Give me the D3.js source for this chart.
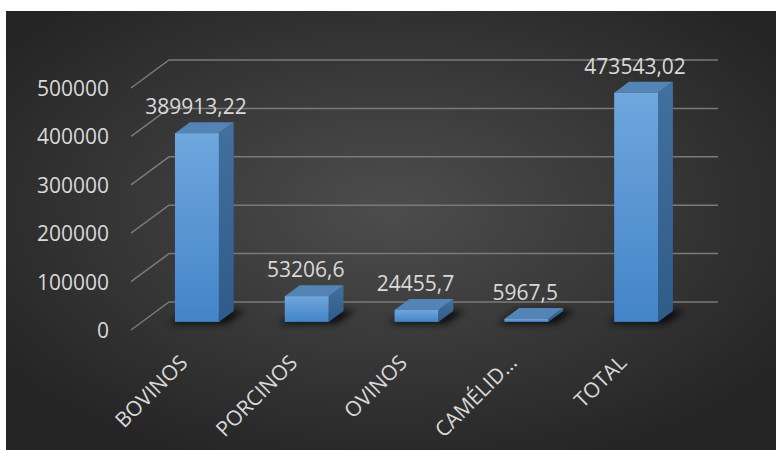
<!DOCTYPE html>
<html>
<head>
<meta charset="utf-8">
<script src="https://cdn.jsdelivr.net/npm/d3@7"></script>
<style>
  html, body { margin: 0; padding: 0; background: #ffffff; }
  svg { display: block; }
  text { font-family: "Open Sans", "Liberation Sans", sans-serif; fill: #d9d9d9; }
</style>
</head>
<body>
<svg id="chart" width="776" height="450"></svg>
<script>
// Livestock totals per category
const categories = ["BOVINOS", "PORCINOS", "OVINOS", "CAMÉLID…", "TOTAL"];
const values = [389913.22, 53206.6, 24455.7, 5967.5, 473543.02];
const valueLabels = ["389913,22", "53206,6", "24455,7", "5967,5", "473543,02"];
const yTicks = [0, 100000, 200000, 300000, 400000, 500000];

const W = 776, H = 450;
const svg = d3.select("#chart");
const defs = svg.append("defs");

// dark radial background
const bg = defs.append("radialGradient").attr("id", "bg")
  .attr("cx", "50%").attr("cy", "45%").attr("r", "62%");
bg.append("stop").attr("offset", "0%").attr("stop-color", "#4d4d4d");
bg.append("stop").attr("offset", "100%").attr("stop-color", "#252525");

const frontGrad = defs.append("linearGradient").attr("id", "front")
  .attr("x1", 0).attr("y1", 0).attr("x2", 0).attr("y2", 1);
frontGrad.append("stop").attr("offset", "0%").attr("stop-color", "#6fa7de");
frontGrad.append("stop").attr("offset", "100%").attr("stop-color", "#4384c8");

const sideGrad = defs.append("linearGradient").attr("id", "side")
  .attr("x1", 0).attr("y1", 0).attr("x2", 0).attr("y2", 1);
sideGrad.append("stop").attr("offset", "0%").attr("stop-color", "#42709f");
sideGrad.append("stop").attr("offset", "100%").attr("stop-color", "#2f5b89");

defs.append("filter").attr("id", "soft")
  .attr("x", "-50%").attr("y", "-50%").attr("width", "200%").attr("height", "200%")
  .append("feGaussianBlur").attr("stdDeviation", 3.5);

svg.append("rect").attr("x", 6).attr("y", 11).attr("width", W - 6).attr("height", H - 11)
  .attr("fill", "url(#bg)");

// 3D frame: floor front edge, depth vector, back wall
const floorX0 = 131, floorX1 = 680, floorY = 330;
const depthX = 38, depthY = -28;
const t0 = 0.29, t1 = 0.68;          // bar depth range (fraction of floor depth)
const wallRight = 718;

const y = d3.scaleLinear().domain([0, 500000]).range([0, 242]);
const x = d3.scaleBand().domain(categories)
  .range([floorX0 + t0 * depthX, floorX1 + t0 * depthX])
  .paddingInner(0.6).paddingOuter(0.3);

// gridlines (floor diagonal + back wall)
const grid = svg.append("g");
yTicks.forEach(v => {
  const fy = floorY - y(v), by = floorY + depthY - y(v);
  grid.append("path")
    .attr("d", `M${floorX0},${fy}L${floorX0 + depthX},${by}L${wallRight},${by}`)
    .attr("fill", "none").attr("stroke", "#7a7a7a").attr("stroke-width", 1.5);
});

// value axis labels
svg.append("g").selectAll("text").data(yTicks).join("text")
  .attr("x", 109).attr("y", v => floorY - y(v))
  .attr("text-anchor", "end").attr("dominant-baseline", "central")
  .attr("font-size", 21).text(v => v);

// bars
const dx = (t1 - t0) * depthX, dy = (t1 - t0) * depthY;
const baseY = floorY + t0 * depthY;
const bw = x.bandwidth();
const bars = svg.append("g").selectAll("g").data(categories.map((c, i) => ({ c, v: values[i], label: valueLabels[i] })))
  .join("g");

bars.append("path") // soft shadow on the floor
  .attr("d", d => {
    const x0 = x(d.c) - 6, x1 = x(d.c) + bw + 8;
    return `M${x0},${baseY + 2}L${x1},${baseY + 2}L${x1 + dx + 4},${baseY + dy - 1}L${x0 + dx + 4},${baseY + dy - 1}Z`;
  })
  .attr("fill", "#000").attr("opacity", 0.75).attr("filter", "url(#soft)");

bars.append("path") // side face
  .attr("d", d => {
    const xr = x(d.c) + bw, top = baseY - y(d.v);
    return `M${xr},${baseY}L${xr + dx},${baseY + dy}L${xr + dx},${top + dy}L${xr},${top}Z`;
  })
  .attr("fill", "url(#side)");

bars.append("path") // top face
  .attr("d", d => {
    const xl = x(d.c), top = baseY - y(d.v);
    return `M${xl},${top}L${xl + bw},${top}L${xl + bw + dx},${top + dy}L${xl + dx},${top + dy}Z`;
  })
  .attr("fill", "#5483b6");

bars.append("rect") // front face
  .attr("x", d => x(d.c)).attr("y", d => baseY - y(d.v))
  .attr("width", bw).attr("height", d => y(d.v))
  .attr("fill", "url(#front)");

bars.append("text") // data labels
  .attr("x", d => x(d.c) + bw / 2 - 1)
  .attr("y", d => baseY - y(d.v) + dy - 8)
  .attr("text-anchor", "middle").attr("font-size", 21)
  .text(d => d.label);

// category labels
svg.append("g").selectAll("text").data(categories).join("text")
  .attr("transform", c => `translate(${x(c) + bw / 2 - 8},364) rotate(-45)`)
  .attr("text-anchor", "end").attr("font-size", 21)
  .text(c => c);
</script>
</body>
</html>
